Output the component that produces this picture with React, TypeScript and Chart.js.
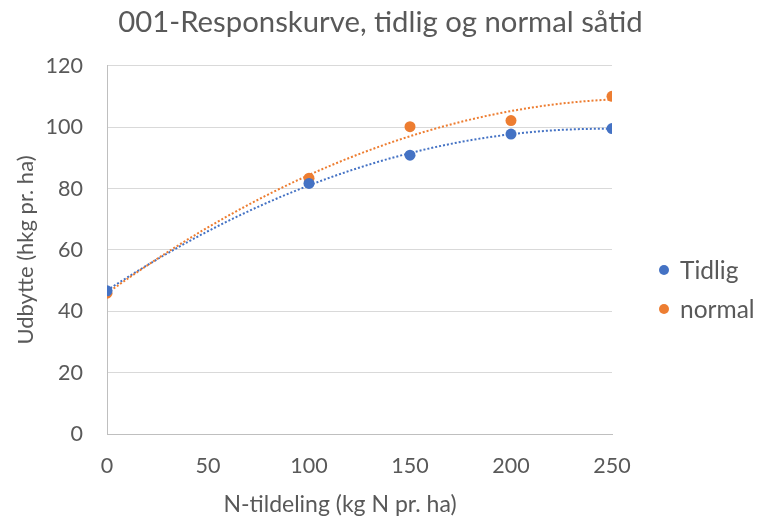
import React, { useEffect, useRef } from "react";
import { Chart, registerables } from "chart.js";

Chart.register(...registerables);

const TITLE = "001-Responskurve, tidlig og normal såtid";
const X_TITLE = "N-tildeling (kg N pr. ha)";
const Y_TITLE = "Udbytte (hkg pr. ha)";
const nLevels = [0, 100, 150, 200, 250];
const tidlig = [46.7, 81.7, 90.9, 97.8, 99.6];
const normal = [45.9, 83.4, 100.2, 102.2, 110.1];
const seriesNames = ["Tidlig", "normal"];
const seriesColors = ["#4472C4", "#ED7D31"];

const FONT = "Lato, 'Open Sans', sans-serif";
const TEXT = "#595959";

// least squares 2nd order polynomial fit (Excel-style trendline)
function polyFit2(xs: number[], ys: number[]): [number, number, number] {
  let s0 = 0, s1 = 0, s2 = 0, s3 = 0, s4 = 0, t0 = 0, t1 = 0, t2 = 0;
  for (let i = 0; i < xs.length; i++) {
    const x = xs[i], y = ys[i];
    s0 += 1; s1 += x; s2 += x * x; s3 += x * x * x; s4 += x * x * x * x;
    t0 += y; t1 += x * y; t2 += x * x * y;
  }
  const M = [
    [s0, s1, s2, t0],
    [s1, s2, s3, t1],
    [s2, s3, s4, t2],
  ];
  for (let c = 0; c < 3; c++) {
    let p = c;
    for (let r = c + 1; r < 3; r++) if (Math.abs(M[r][c]) > Math.abs(M[p][c])) p = r;
    [M[c], M[p]] = [M[p], M[c]];
    for (let r = 0; r < 3; r++) {
      if (r === c) continue;
      const f = M[r][c] / M[c][c];
      for (let k = c; k < 4; k++) M[r][k] -= f * M[c][k];
    }
  }
  return [M[0][3] / M[0][0], M[1][3] / M[1][1], M[2][3] / M[2][2]];
}

const trendPlugin = {
  id: "trendlines",
  beforeDatasetsDraw(chart: any) {
    const { ctx, chartArea, scales } = chart;
    const xs = scales.x, ys = scales.y;
    ctx.save();
    ctx.beginPath();
    ctx.rect(chartArea.left, chartArea.top, chartArea.right - chartArea.left, chartArea.bottom - chartArea.top);
    ctx.clip();
    chart.data.datasets.forEach((ds: any, i: number) => {
      const px = ds.data.map((p: any) => p.x);
      const py = ds.data.map((p: any) => p.y);
      const [a, b, c] = polyFit2(px, py);
      const x0 = Math.min(...px), x1 = Math.max(...px);
      const f = (x: number) => a + b * x + c * x * x;
      const xc = (x0 + x1) / 2;
      const yc = f(x0) + (b + 2 * c * x0) * (x1 - x0) / 2;
      ctx.beginPath();
      ctx.strokeStyle = seriesColors[i];
      ctx.lineWidth = 2;
      ctx.setLineDash([2, 2]);
      ctx.moveTo(xs.getPixelForValue(x0), ys.getPixelForValue(f(x0)));
      ctx.quadraticCurveTo(
        xs.getPixelForValue(xc), ys.getPixelForValue(yc),
        xs.getPixelForValue(x1), ys.getPixelForValue(f(x1))
      );
      ctx.stroke();
    });
    ctx.restore();
  },
};

const textPlugin = {
  id: "sideTexts",
  afterDraw(chart: any) {
    const { ctx } = chart;
    ctx.save();
    ctx.font = `24.5px ${FONT}`;
    ctx.textBaseline = "middle";
    ctx.textAlign = "left";
    const rows = [270, 309];
    seriesNames.forEach((name, i) => {
      ctx.beginPath();
      ctx.fillStyle = seriesColors[i];
      ctx.arc(664, rows[i], 5, 0, Math.PI * 2);
      ctx.fill();
      ctx.fillStyle = TEXT;
      ctx.fillText(name, 680, rows[i] + 1);
    });
    // x-axis title (Excel centres it slightly left of the plot centre)
    ctx.font = `23px ${FONT}`;
    ctx.textAlign = "center";
    ctx.fillStyle = TEXT;
    ctx.fillText(X_TITLE, 340, 505);
    ctx.restore();
  },
};

export default function App() {
  const ref = useRef<HTMLCanvasElement | null>(null);
  useEffect(() => {
    if (!ref.current) return;
    const series = [tidlig, normal];
    const chart = new Chart(ref.current, {
      type: "scatter",
      data: {
        datasets: series.map((vals, i) => ({
          label: seriesNames[i],
          data: nLevels.map((x, j) => ({ x, y: vals[j] })),
          backgroundColor: seriesColors[i],
          borderColor: seriesColors[i],
          pointRadius: 5.5,
          pointBorderWidth: 0,
        })),
      },
      options: {
        animation: false,
        responsive: true,
        maintainAspectRatio: false,
        layout: { padding: 0 },
        plugins: {
          legend: { display: false },
          tooltip: { enabled: false },
          title: {
            display: true,
            text: TITLE,
            color: TEXT,
            font: { family: FONT, size: 29.3, weight: "normal" },
            padding: { top: 5, bottom: 25.8 },
          },
        },
        scales: {
          x: {
            type: "linear",
            min: 0,
            max: 250,
            ticks: { stepSize: 50, color: TEXT, font: { family: FONT, size: 21.5 }, padding: 19 },
            grid: { display: false, drawTicks: false },
            border: { display: true, color: "#bfbfbf", width: 1 },
            title: { display: false },
            afterFit(scale: any) { scale.height = 89; },
          },
          y: {
            type: "linear",
            min: 0,
            max: 120,
            ticks: { stepSize: 20, color: TEXT, font: { family: FONT, size: 21.5 }, padding: 24 },
            grid: { color: "#d9d9d9", lineWidth: 1, drawTicks: false },
            border: { display: true, color: "#bfbfbf", width: 1 },
            title: {
              display: true,
              text: Y_TITLE,
              color: TEXT,
              font: { family: FONT, size: 22 },
              padding: { top: 13, bottom: 0 },
            },
            afterFit(scale: any) { scale.width = 107; },
          },
          legendSpace: {
            type: "linear",
            position: "right",
            display: true,
            ticks: { display: false },
            grid: { display: false, drawTicks: false },
            border: { display: false },
            afterFit(scale: any) { scale.width = 149; },
          },
        },
      },
      plugins: [trendPlugin, textPlugin],
    } as any);
    return () => chart.destroy();
  }, []);
  return (
    <div style={{ position: "absolute", left: 0, top: 0, width: 761, height: 523 }}>
      <canvas ref={ref} />
    </div>
  );
}
